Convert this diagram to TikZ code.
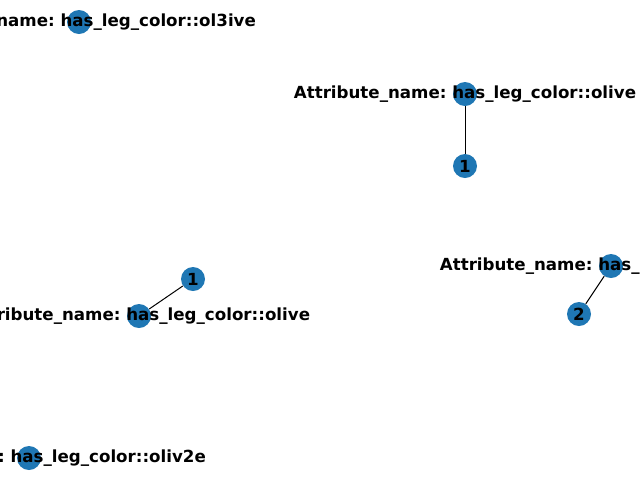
\documentclass[tikz,border=0pt]{standalone}
\usepackage{fontspec}
\setmainfont{DejaVu Sans}
\usepackage{tikz}
\definecolor{nodeblue}{RGB}{31,119,180}
\tikzset{
  vertex/.style={circle,fill=nodeblue,inner sep=0pt,minimum size=18pt},
  vlabel/.style={font=\fontsize{12.5pt}{15pt}\selectfont\bfseries\frenchspacing,inner sep=0pt},
  link/.style={draw=black,line width=0.75pt}
}

\begin{document}
\begin{tikzpicture}[x=0.75pt,y=0.75pt,yscale=-1,xscale=1]
%set diagram left start at 0, and has height of 480
\useasboundingbox (0,0) rectangle (640,480);
\clip (0,0) rectangle (640,480);

%Nodes
\node [vertex] (ol3ive) at (79,22) {};
\node [vertex] (oliveA) at (465,94) {};
\node [vertex] (oneA) at (465,166) {};
\node [vertex] (oneB) at (193,279) {};
\node [vertex] (oliveB) at (139,316) {};
\node [vertex] (oliveC) at (611,266) {};
\node [vertex] (two) at (579,314) {};
\node [vertex] (oliv2e) at (29,458) {};

%Straight Lines
\draw [link] (oliveA) -- (oneA) ;
\draw [link] (oneB) -- (oliveB) ;
\draw [link] (oliveC) -- (two) ;

% Text Node
\node [vlabel] (t1) at (ol3ive) {Attribute\_name: has\_leg\_color::ol3ive};
\node [vlabel] (t2) at (oliveA) {Attribute\_name: has\_leg\_color::olive};
\node [vlabel] (t3) at (oneA) {1};
\node [vlabel] (t4) at (oneB) {1};
\node [vlabel] (t5) at (oliveB) {Attribute\_name: has\_leg\_color::olive};
\node [vlabel] (t6) at (oliveC) {Attribute\_name: has\_leg\_color::olive};
\node [vlabel] (t7) at (two) {2};
\node [vlabel] (t8) at (oliv2e) {Attribute\_name: has\_leg\_color::oliv2e};

\end{tikzpicture}
\end{document}
